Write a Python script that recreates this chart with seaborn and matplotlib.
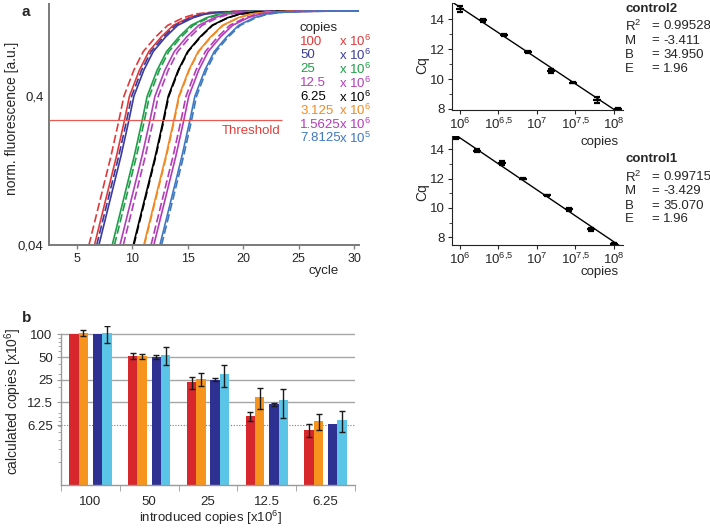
import numpy as np
import matplotlib
matplotlib.use('Agg')
import matplotlib.pyplot as plt
import seaborn as sns
from matplotlib.ticker import FixedLocator, NullLocator, NullFormatter, LogLocator

sns.set_style('ticks')
plt.rcParams['font.family'] = ['Liberation Sans', 'DejaVu Sans']
plt.rcParams['mathtext.default'] = 'regular'
plt.rcParams['font.size'] = 9

# ---- panel a: amplification curves (cycle read at each fluorescence level)
fluor_levels = [0.04, 0.16, 0.275, 0.4, 0.6, 0.8, 1.0, 1.2, 1.35, 1.43, 1.47, 1.49, 1.5]
copies_labels = ['100', '50', '25', '12.5', '6.25', '3.125', '1.5625', '7.8125']
copies_exp = ['6', '6', '6', '6', '6', '6', '6', '5']
curve_colors = ['#e0393a', '#3b3b9e', '#1e9e48', '#b23fba', '#000000',
                '#f08a24', '#b53ab8', '#3f78c2']
cycles_solid = [
    [6.6, 8.6, 9.3, 9.75, 10.65, 11.5, 12.6, 13.7, 15.1, 16.2, 17.6, 19.6, 30.4],
    [7.0, 9.0, 9.7, 10.15, 11.05, 11.9, 13.0, 14.1, 15.5, 16.6, 18.0, 20.0, 30.4],
    [8.2, 10.2, 10.9, 11.35, 12.25, 13.1, 14.2, 15.3, 16.7, 17.8, 19.2, 21.2, 30.4],
    [8.9, 10.9, 11.6, 12.05, 12.95, 13.8, 14.9, 16.0, 17.4, 18.5, 19.9, 21.9, 30.4],
    [10.1, 12.1, 12.8, 13.25, 14.15, 15.0, 16.1, 17.2, 18.6, 19.7, 21.1, 23.1, 30.4],
    [11.05, 13.05, 13.75, 14.2, 15.1, 15.95, 17.05, 18.15, 19.55, 20.65, 22.05, 24.05, 30.4],
    [11.95, 13.95, 14.65, 15.1, 16.0, 16.85, 17.95, 19.05, 20.45, 21.55, 22.95, 24.95, 30.4],
    [12.5, 14.5, 15.2, 15.65, 16.55, 17.4, 18.5, 19.6, 21.0, 22.1, 23.5, 25.5, 30.4],
]
cycles_dashed = [
    [6.1, 8.1, 8.8, 9.25, 10.15, 11.0, 12.1, 13.2, 14.6, 15.7, 17.1, 19.1, 30.4],
    [6.8, 8.8, 9.5, 9.95, 10.85, 11.7, 12.8, 13.9, 15.3, 16.4, 17.8, 19.8, 30.4],
    [8.4, 10.4, 11.1, 11.55, 12.45, 13.3, 14.4, 15.5, 16.9, 18.0, 19.4, 21.4, 30.4],
    [9.2, 11.2, 11.9, 12.35, 13.25, 14.1, 15.2, 16.3, 17.7, 18.8, 20.2, 22.2, 30.4],
    [10.15, 12.15, 12.85, 13.3, 14.2, 15.05, 16.15, 17.25, 18.65, 19.75, 21.15, 23.15, 30.4],
    [11.1, 13.1, 13.8, 14.25, 15.15, 16.0, 17.1, 18.2, 19.6, 20.7, 22.1, 24.1, 30.4],
    [11.7, 13.7, 14.4, 14.85, 15.75, 16.6, 17.7, 18.8, 20.2, 21.3, 22.7, 24.7, 30.4],
    [12.65, 14.65, 15.35, 15.8, 16.7, 17.55, 18.65, 19.75, 21.15, 22.25, 23.65, 25.65, 30.4],
]
threshold = 0.275

# ---- standard curves
ctrl2_copies = [1.0e6, 2.0e6, 3.8e6, 7.6e6, 1.51e7, 2.95e7, 6.0e7, 1.12e8]
ctrl2_cq = [14.73, 13.95, 12.95, 11.84, 10.55, 9.77, 8.62, 8.0]
ctrl2_err = [0.2, 0.1, 0.07, 0.06, 0.15, 0.05, 0.2, 0.08]
ctrl2_stats = ['0.99528', '-3.411', '34.950', '1.96']
ctrl1_copies = [8.9e5, 1.7e6, 3.55e6, 6.6e6, 1.35e7, 2.63e7, 5.13e7, 1.02e8]
ctrl1_cq = [14.75, 13.9, 13.05, 12.0, 10.85, 9.9, 8.55, 7.55]
ctrl1_err = [0.05, 0.08, 0.15, 0.06, 0.06, 0.08, 0.1, 0.06]
ctrl1_stats = ['0.99715', '-3.429', '35.070', '1.96']
stat_names = ['R$^2$', 'M', 'B', 'E']

# ---- panel b: calculated copies
introduced = ['100', '50', '25', '12.5', '6.25']
bar_colors = ['#d7262c', '#f7941d', '#2e3192', '#5bc5e8']
calc_values = [
    [100, 51.6, 23.3, 8.2, 5.4],
    [104, 51, 25.8, 14.8, 7.1],
    [100, 50, 25, 11.8, 6.5],
    [104, 53.7, 29.8, 13.3, 7.4],
]
calc_err = [
    [0, 4.5, 4.2, 1.2, 1.0],
    [9.5, 4.5, 5.3, 4.7, 1.8],
    [0, 3.5, 1.2, 0.6, 0],
    [26, 14, 9.8, 5.5, 2.3],
]

W, H = 710, 530
fig = plt.figure(figsize=(W / 100, H / 100), dpi=100)


def box(l, t, r, b):
    return [l / W, 1 - b / H, (r - l) / W, (b - t) / H]


def px(x, y):
    return x / W, 1 - y / H


# ================= panel a =================
ax = fig.add_axes(box(49, 4, 359, 245))
for i, c in enumerate(curve_colors):
    sns.lineplot(x=cycles_solid[i], y=fluor_levels, ax=ax, color=c, lw=1.2, sort=False)
    sns.lineplot(x=cycles_dashed[i], y=fluor_levels, ax=ax, color=c, lw=1.2, sort=False,
                 linestyle=(0, (5, 2)))
ax.hlines(threshold, 2.5, 23.5, color='#ea5a55', lw=0.9)
ax.text(23.4, 0.232, 'Threshold', color='#e0403a', ha='right', va='center', fontsize=9.5)
ax.set_yscale('log')
ax.set_xlim(2.5, 30.45)
ax.set_ylim(0.04, 1.67)
ax.xaxis.set_major_locator(FixedLocator([5, 10, 15, 20, 25, 30]))
ax.yaxis.set_major_locator(FixedLocator([0.04, 0.4]))
ax.yaxis.set_minor_locator(NullLocator())
ax.yaxis.set_minor_formatter(NullFormatter())
ax.set_yticklabels(['0,04', '0,4'])
ax.tick_params(axis='x', length=3, width=1, color='#808080', pad=3, labelsize=9)
ax.tick_params(axis='y', length=0, pad=4, labelsize=9.5)
for s in ['top', 'right']:
    ax.spines[s].set_visible(False)
for s in ['left', 'bottom']:
    ax.spines[s].set_color('#7a7a7a')
    ax.spines[s].set_linewidth(1.4)
ax.set_ylabel('')
ax.set_xlabel('')
fig.text(*px(12, 118), 'norm. fluorescence [a.u.]', rotation=90, ha='center', va='center',
         fontsize=10)
fig.text(*px(324, 271), 'cycle', ha='center', va='center', fontsize=9.5)
fig.text(*px(300, 28.3), 'copies', va='center', fontsize=9.5)
for i, lab in enumerate(copies_labels):
    yy = 41.7 + i * 13.8
    fig.text(*px(300, yy), lab, color=curve_colors[i], va='center', fontsize=9.5)
    fig.text(*px(339, yy), 'x 10$^{%s}$' % copies_exp[i], color=curve_colors[i],
             va='center', fontsize=9.5)
fig.text(*px(26, 12), 'a', fontweight='bold', fontsize=11, ha='center', va='center')


# ================= standard curves =================
def draw_control(rect, copies, cq, err, ylim, name, stats, name_y, rows_y, cq_y, copies_y):
    axc = fig.add_axes(rect)
    axc.patch.set_alpha(0)
    logc = np.log10(copies)
    axc.set_xlim(5.9, 8.12)
    axc.set_ylim(*ylim)
    sns.regplot(x=logc, y=cq, ax=axc, ci=None, scatter=False, truncate=False,
                color='black', line_kws={'lw': 1.0})
    axc.errorbar(logc, cq, yerr=err, fmt='_', ms=6, mew=1.6, color='black',
                 ecolor='black', elinewidth=1, capsize=2, capthick=1)
    axc.set_xlim(5.9, 8.12)
    axc.set_ylim(*ylim)
    axc.xaxis.set_major_locator(FixedLocator([6, 6.5, 7, 7.5, 8]))
    axc.set_xticklabels(['$10^{6}$', '$10^{6{,}5}$', '$10^{7}$', '$10^{7{,}5}$', '$10^{8}$'])
    axc.yaxis.set_major_locator(FixedLocator([8, 10, 12, 14]))
    axc.yaxis.set_minor_locator(FixedLocator([9, 11, 13]))
    axc.tick_params(axis='both', which='major', length=3, width=0.8, pad=2, labelsize=9.5)
    axc.tick_params(axis='y', which='minor', length=2, width=0.6)
    for s in ['top', 'right']:
        axc.spines[s].set_visible(False)
    for s in ['left', 'bottom']:
        axc.spines[s].set_linewidth(0.8)
        axc.spines[s].set_color('#222222')
    axc.set_xlabel('')
    axc.set_ylabel('')
    fig.text(*px(600, copies_y), 'copies', ha='center', va='center', fontsize=9.5)
    fig.text(*px(422, cq_y), 'Cq', rotation=90, ha='center', va='center', fontsize=10)
    fig.text(*px(625, name_y), name, fontweight='bold', va='center', fontsize=9.5)
    for j, (nm, val) in enumerate(zip(stat_names, stats)):
        fig.text(*px(625, rows_y[j]), nm, va='center', fontsize=9.5)
        fig.text(*px(651, rows_y[j]), '=', va='center', fontsize=9.5)
        fig.text(*px(663, rows_y[j]), val, va='center', fontsize=9.5)
    return axc


draw_control(box(452, 3, 623, 110), ctrl2_copies, ctrl2_cq, ctrl2_err, (7.93, 15.1),
             'control2', ctrl2_stats, 9, [26, 40.5, 54.5, 68.5], 65, 142)
draw_control(box(452, 136, 623, 245), ctrl1_copies, ctrl1_cq, ctrl1_err, (7.47, 14.9),
             'control1', ctrl1_stats, 158.5, [177, 191.3, 205.8, 219.2], 192, 272)

# ================= panel b =================
axb = fig.add_axes(box(61, 325.8, 355, 485))
xpos = np.arange(len(introduced))
offsets = [-0.28, -0.12, 0.12, 0.28]
for g in [12.5, 25, 50, 100]:
    axb.axhline(g, color='#a6a6a6', lw=1.0, zorder=0)
axb.axhline(6.25, color='#7a7a7a', lw=0.8, ls=(0, (1, 1.5)), zorder=0)
for k in range(4):
    axb.bar(xpos + offsets[k], calc_values[k], width=0.16, color=bar_colors[k],
            zorder=2, linewidth=0)
    e = np.array(calc_err[k], dtype=float)
    m = e > 0
    axb.errorbar((xpos + offsets[k])[m], np.array(calc_values[k])[m], yerr=e[m],
                 fmt='none', ecolor='#1a1a1a', elinewidth=1, capsize=2.5, capthick=1, zorder=3)
axb.set_yscale('log')
axb.set_ylim(1, 130)
axb.set_xlim(-0.5, 4.5)
axb.yaxis.set_major_locator(FixedLocator([6.25, 12.5, 25, 50, 100]))
axb.set_yticklabels(['6.25', '12.5', '25', '50', '100'])
axb.yaxis.set_minor_locator(LogLocator(base=10, subs=range(2, 10)))
axb.yaxis.set_minor_formatter(NullFormatter())
axb.set_xticks(xpos)
axb.set_xticklabels(introduced)
axb.xaxis.set_minor_locator(FixedLocator(np.arange(-0.5, 5, 1.0)))
axb.tick_params(axis='x', which='major', length=0, pad=8, labelsize=9.5)
axb.tick_params(axis='x', which='minor', length=4, color='#9a9a9a')
axb.tick_params(axis='y', which='major', length=3, color='#9a9a9a', pad=3, labelsize=9.5)
axb.tick_params(axis='y', which='minor', length=2, color='#9a9a9a')
for s in ['top', 'right']:
    axb.spines[s].set_visible(False)
for s in ['left', 'bottom']:
    axb.spines[s].set_color('#9a9a9a')
    axb.spines[s].set_linewidth(1.0)
axb.spines['left'].set_bounds(1, 100)
axb.set_ylabel('')
axb.set_xlabel('')
fig.text(*px(13, 401), 'calculated copies [x10$^{6}$]', rotation=90, ha='center',
         va='center', fontsize=10)
fig.text(*px(210, 518), 'introduced copies [x10$^{6}$]', ha='center', va='center',
         fontsize=9.5)
fig.text(*px(27, 318), 'b', fontweight='bold', fontsize=11, ha='center', va='center')

fig.savefig('out.png', dpi=100)
